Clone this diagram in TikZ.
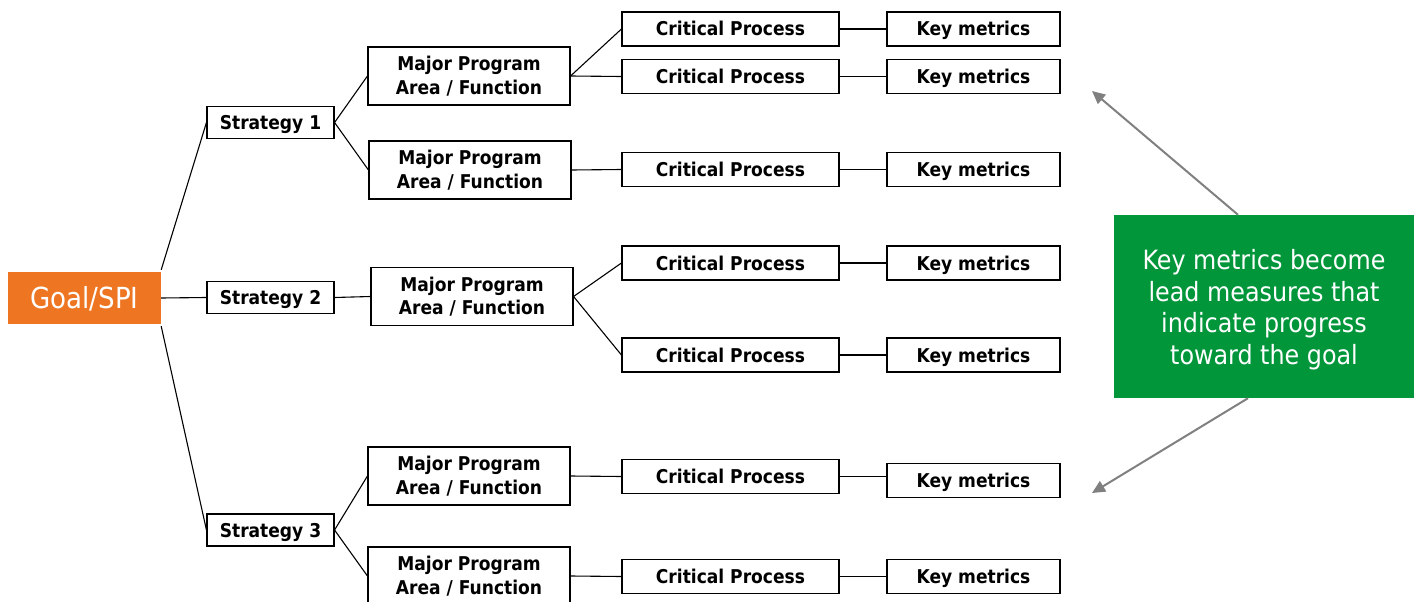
\documentclass[tikz,border=0pt]{standalone}
\usepackage{fontspec}
\setmainfont{DejaVu Sans Condensed}
\usetikzlibrary{arrows.meta}
\definecolor{goalorange}{HTML}{EE7623}
\definecolor{notegreen}{HTML}{009639}
\definecolor{arrowgray}{HTML}{808080}
\tikzset{
  box/.style={draw=black, line width=1.1pt, fill=white, inner sep=0pt, align=center,
    font=\fontsize{19}{23.5}\selectfont\bfseries},
  onebox/.style={box, text height=14pt, text depth=0pt},
  stratbox/.style={onebox, minimum width=127pt, minimum height=32pt},
  mpabox/.style={box, minimum width=202pt, minimum height=58pt},
  cpbox/.style={onebox, minimum width=217pt, minimum height=34pt},
  kmbox/.style={onebox, minimum width=173pt, minimum height=34pt},
  link/.style={draw=black, line width=1.1pt},
  note/.style={draw=arrowgray, line width=2pt, -{Triangle[length=13pt,width=12pt]}}
}
\begin{document}
\begin{tikzpicture}[x=1pt,y=-1pt]
\useasboundingbox (0,0) rectangle (1416,602);
% goal
\node[fill=goalorange, text=white, minimum width=153pt, minimum height=52pt, inner sep=0pt,
  text height=21pt, text depth=0pt,
  font=\fontsize{29}{36}\selectfont] (goal) at (84.5,298) {Goal/SPI};
% strategies
\node[stratbox] (s1) at (270.5,122.5) {Strategy 1};
\node[stratbox] (s2) at (270.5,297.5) {Strategy 2};
\node[stratbox] (s3) at (270.5,530) {Strategy 3};
% major program areas
\node[mpabox] (m1) at (469,76) {Major Program\\Area / Function};
\node[mpabox] (m2) at (470,170) {Major Program\\Area / Function};
\node[mpabox] (m3) at (472,296.5) {Major Program\\Area / Function};
\node[mpabox] (m4) at (469,476) {Major Program\\Area / Function};
\node[mpabox] (m5) at (469,576) {Major Program\\Area / Function};
% critical processes
\node[cpbox] (c1) at (730.5,29) {Critical Process};
\node[cpbox] (c2) at (730.5,76.5) {Critical Process};
\node[cpbox] (c3) at (730.5,169.5) {Critical Process};
\node[cpbox] (c4) at (730.5,263) {Critical Process};
\node[cpbox] (c5) at (730.5,355) {Critical Process};
\node[cpbox] (c6) at (730.5,476.5) {Critical Process};
\node[cpbox] (c7) at (730.5,576.5) {Critical Process};
% key metrics
\node[kmbox] (k1) at (973.5,29) {Key metrics};
\node[kmbox] (k2) at (973.5,76.5) {Key metrics};
\node[kmbox] (k3) at (973.5,169.5) {Key metrics};
\node[kmbox] (k4) at (973.5,263) {Key metrics};
\node[kmbox] (k5) at (973.5,355) {Key metrics};
\node[kmbox] (k6) at (973.5,480.5) {Key metrics};
\node[kmbox] (k7) at (973.5,576.5) {Key metrics};
% note
\node[fill=notegreen, minimum width=300pt, minimum height=183pt, inner sep=0pt] (note) at (1264,306.5) {};
\node[text=white, inner sep=0pt, align=center, font=\fontsize{26.5}{31.5}\selectfont] (notetext) at (1264,309.5)
  {Key metrics become\\lead measures that\\indicate progress\\toward the goal};
% connectors
\coordinate (gtop) at ([yshift=2pt]goal.north east);
\coordinate (gbot) at ([yshift=-2pt]goal.south east);
\draw[link] (gtop) -- (s1.west);
\draw[link] (goal.east) -- (s2.west);
\draw[link] (gbot) -- (s3.west);
\draw[link] (s1.east) -- (m1.west);
\draw[link] (s1.east) -- (m2.west);
\draw[link] (s2.east) -- (m3.west);
\draw[link] (s3.east) -- (m4.west);
\draw[link] (s3.east) -- (m5.west);
\draw[link] (m1.east) -- (c1.west);
\draw[link] (m1.east) -- (c2.west);
\draw[link] (m2.east) -- (c3.west);
\draw[link] (m3.east) -- (c4.west);
\draw[link] (m3.east) -- (c5.west);
\draw[link] (m4.east) -- (c6.west);
\draw[link] (m5.east) -- (c7.west);
\draw[link] (c1) -- (k1);
\draw[link] (c2) -- (k2);
\draw[link] (c3) -- (k3);
\draw[link] (c4) -- (k4);
\draw[link] (c5) -- (k5);
\draw[link] (c6.east) -- (k6.west |- c6.east);
\draw[link] (c7) -- (k7);
% arrows
\coordinate (a1) at (1092,91);
\coordinate (a2) at (1092,493);
\draw[note] ([xshift=-26pt]note.north) -- (a1);
\draw[note] ([xshift=-16pt]note.south) -- (a2);
\end{tikzpicture}
\end{document}
